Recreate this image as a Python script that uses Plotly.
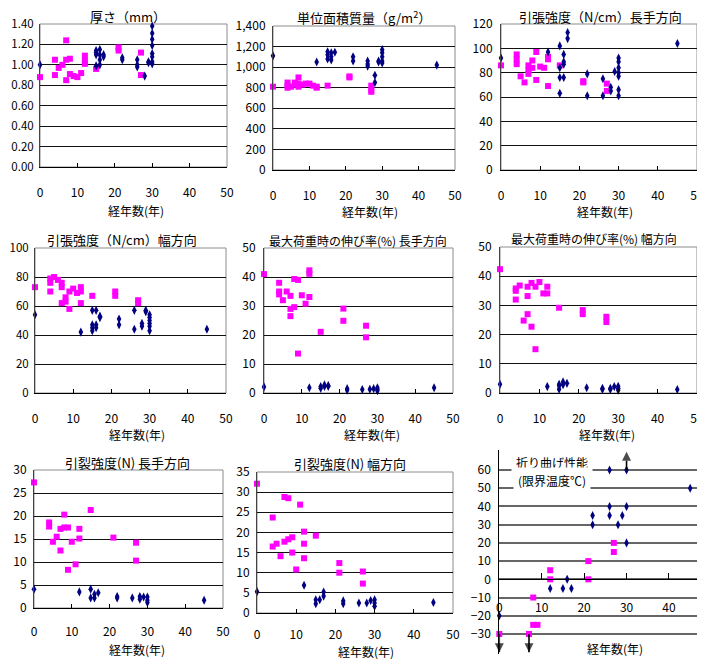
import plotly.graph_objects as go

W, H = 705, 659          # window size
OFF = 8                  # page body margin of the html page
FW, FH = W - OFF, H - OFF
FONT = "Noto Sans CJK JP"
PINK = "#FF00FF"
NAVY = "#000080"

# ---------------- data ----------------
# 1 厚さ (mm)
p1_pink_x = [0, 4, 4, 5, 6, 7, 7, 7, 8, 8, 9, 10, 11, 12, 12, 12, 15, 21, 21, 27, 27]
p1_pink_y = [0.88, 1.05, 0.90, 0.97, 1.00, 1.24, 1.05, 0.85, 1.06, 0.91, 0.89, 0.88, 0.92, 1.09, 1.04, 1.01, 0.96, 1.17, 1.14, 1.12, 0.90]
p1_navy_x = [0, 15, 15, 15, 15, 16, 16, 16, 16, 17, 17, 22, 22, 26, 26, 26, 28, 29, 29, 30, 30, 30, 30, 30, 30, 30, 30]
p1_navy_y = [1.00, 1.14, 1.12, 1.10, 0.99, 1.15, 1.10, 1.05, 1.00, 1.10, 1.08, 1.07, 1.05, 1.05, 1.00, 0.98, 0.89, 1.02, 1.03, 1.38, 1.31, 1.25, 1.19, 1.11, 1.08, 1.03, 1.01]

# 2 単位面積質量 (g/m2)
p2_pink_x = [0, 4, 4, 4, 5, 6, 6, 7, 7, 7, 8, 9, 10, 11, 12, 12, 15, 21, 21, 27, 27, 27]
p2_pink_y = [810, 850, 820, 800, 810, 850, 830, 900, 840, 810, 830, 840, 840, 820, 810, 800, 820, 900, 910, 820, 780, 760]
p2_navy_x = [0, 12, 15, 15, 15, 16, 16, 16, 17, 22, 22, 26, 26, 26, 28, 28, 29, 29, 30, 30, 30, 30, 30, 45]
p2_navy_y = [1110, 1050, 1150, 1120, 1080, 1140, 1100, 1070, 1145, 1100, 1060, 1060, 1030, 1010, 920, 850, 1060, 1050, 1170, 1140, 1100, 1060, 1040, 1020]

# 3 引張強度 長手方向
p3_pink_x = [0, 4, 4, 4, 5, 6, 7, 7, 7, 8, 8, 9, 9, 10, 11, 12, 12, 12, 15, 21, 21, 27, 27]
p3_pink_y = [86, 95, 91, 87, 77, 72, 86, 82, 79, 90, 84, 97, 74, 85, 84, 93, 91, 69, 86, 73, 72, 71, 65]
p3_navy_x = [0, 12, 15, 15, 15, 15, 16, 16, 16, 16, 17, 17, 22, 22, 26, 26, 28, 28, 29, 30, 30, 30, 30, 30, 30, 30, 45]
p3_navy_y = [92, 97, 102, 84, 76, 63, 95, 89, 87, 76, 113, 108, 79, 61, 75, 61, 68, 65, 81, 92, 89, 84, 80, 77, 66, 61, 104]

# 4 引張強度 幅方向
p4_pink_x = [0, 4, 4, 4, 5, 6, 7, 7, 7, 8, 8, 9, 9, 10, 11, 12, 12, 12, 15, 21, 21, 27, 27]
p4_pink_y = [73, 79, 76, 70, 80, 78, 76, 73, 62, 66, 63, 70, 58, 72, 69, 73, 70, 62, 67, 70, 67, 64, 62]
p4_navy_x = [0, 12, 15, 15, 15, 15, 16, 16, 16, 17, 17, 22, 22, 26, 26, 28, 28, 29, 29, 30, 30, 30, 30, 30, 30, 45]
p4_navy_y = [54, 42, 57, 47, 45, 43, 57, 47, 45, 53, 52, 51, 47, 57, 44, 48, 46, 57, 56, 54, 52, 50, 48, 46, 43, 44]

# 5 最大荷重時の伸び率 長手方向
p5_pink_x = [0, 4, 4, 4, 5, 6, 7, 7, 7, 8, 8, 9, 9, 10, 11, 12, 12, 12, 15, 21, 21, 27, 27]
p5_pink_y = [41, 38, 35, 34, 32, 35, 33.5, 29, 26.5, 39.3, 29.6, 39, 13.6, 33.7, 30.8, 42.3, 41.1, 33.1, 21.1, 29.1, 24.9, 23.2, 19.2]
p5_navy_x = [0, 12, 15, 15, 16, 16, 17, 17, 22, 22, 26, 28, 29, 30, 30, 30, 45]
p5_navy_y = [2.1, 1.8, 2.2, 1.6, 2.8, 2.3, 2.6, 2.3, 1.5, 1.0, 1.2, 1.3, 1.5, 1.8, 1.2, 0.8, 1.8]

# 6 最大荷重時の伸び率 幅方向
p6_pink_x = [0, 4, 4, 4, 5, 6, 7, 7, 7, 8, 8, 9, 9, 10, 11, 12, 12, 15, 21, 21, 27, 27]
p6_pink_y = [42.4, 35.8, 35, 32, 36.8, 24.8, 36.4, 33.2, 27, 37.7, 22.7, 36.4, 15, 38, 34.1, 36.4, 34.1, 29.2, 28.4, 27, 26.1, 24.3]
p6_navy_x = [0, 12, 15, 15, 15, 16, 16, 17, 22, 26, 26, 28, 28, 29, 30, 30, 30, 45]
p6_navy_y = [3, 2.2, 3, 2.5, 1.3, 3.8, 2.8, 3.3, 1.8, 1.6, 1.2, 1.6, 1.2, 2.2, 2.3, 1.6, 1.0, 1.2]

# 7 引裂強度 長手方向
p7_pink_x = [0, 4, 4, 5, 6, 7, 7, 8, 8, 9, 9, 10, 11, 12, 12, 15, 21, 27, 27]
p7_pink_y = [27.3, 18.6, 17.7, 14.4, 15.5, 17.2, 12.5, 20.3, 17.5, 17.5, 8.3, 14.4, 9.5, 17.2, 15.1, 21.3, 15.3, 14.2, 10.3]
p7_navy_x = [0, 12, 15, 15, 16, 16, 17, 22, 22, 26, 28, 28, 29, 30, 30, 30, 45]
p7_navy_y = [4.1, 3.5, 4.1, 2.2, 3.0, 2.2, 3.3, 2.5, 2.2, 2.2, 2.5, 1.9, 2.4, 2.4, 1.7, 1.2, 1.7]

# 8 引裂強度 幅方向
p8_pink_x = [0, 4, 4, 5, 6, 7, 7, 8, 8, 9, 9, 10, 11, 12, 12, 12, 15, 21, 21, 27, 27]
p8_pink_y = [32.1, 23.7, 16.5, 17.2, 14.1, 28.8, 17.7, 28.5, 18.3, 18.8, 15.0, 10.8, 26.9, 20.2, 17.2, 13.6, 19.2, 12.4, 10.0, 10.3, 7.3]
p8_navy_x = [0, 12, 15, 15, 16, 17, 17, 22, 22, 26, 28, 29, 30, 30, 30, 45]
p8_navy_y = [5.3, 6.9, 3.3, 2.3, 3.3, 5.2, 4.2, 3.0, 2.3, 2.5, 2.5, 3.1, 3.3, 2.5, 1.7, 2.6]

# 9 折り曲げ性能 (限界温度℃)
p9_pink_x = [0, 7, 8, 8, 9, 12, 12, 21, 21, 27, 27]
p9_pink_y = [-30, -30, -10, -25, -25, 5, 0, 10, 0, 20, 15]
p9_navy_x = [0, 12, 15, 16, 17, 22, 22, 26, 26, 26, 28, 29, 30, 30, 30, 45]
p9_navy_y = [-20, -5, -5, 0, -5, 35, 30, 60, 40, 35, 30, 35, 60, 40, 20, 50]
# off-scale arrows (x, from, to)
arrow_x = [30, 0, 7]
arrow_from = [60, -30, -30]
arrow_to = [70, -40, -40]

titles = ["厚さ（mm）", "単位面積質量（g/m<sup>2</sup>）", "引張強度（N/cm）長手方向",
          "引張強度（N/cm）幅方向", "最大荷重時の伸び率(%) 長手方向", "最大荷重時の伸び率(%) 幅方向",
          "引裂強度(N) 長手方向", "引裂強度(N) 幅方向"]
x_title = "経年数(年)"
x_ticks = [0, 10, 20, 30, 40, 50]

# ---------------- layout helpers (window pixels -> paper fractions) ----------------
def fx(px):
    return (px - OFF) / FW

def fy(py):
    return 1 - (py - OFF) / FH

panels = [
    dict(l=40, r=227, t=24, b=167, ymax=1.4, dtick=0.2, fmt=".2f", tx=128, ty=16.5, ts=13, xx=136, xy=211, yso=3, yfs=11.5, xso=15),
    dict(l=273, r=455, t=26, b=170, ymax=1400, dtick=200, fmt=",", tx=364, ty=17.5, ts=13, xx=370, xy=212, yso=4, yfs=12, xso=15),
    dict(l=501, r=697, t=24, b=170, ymax=120, dtick=20, fmt="", tx=600, ty=16.5, ts=13, xx=605, xy=212, yso=5, yfs=12, xso=15),
    dict(l=35, r=226, t=248, b=393, ymax=100, dtick=20, fmt="", tx=122, ty=240, ts=13, xx=137, xy=434, yso=3, yfs=11.5, xso=15),
    dict(l=264, r=453, t=248, b=393, ymax=50, dtick=10, fmt="", tx=358, ty=241, ts=12, xx=372, xy=434, yso=5, yfs=12, xso=15),
    dict(l=500, r=697, t=247, b=393, ymax=50, dtick=10, fmt="", tx=594, ty=238, ts=12, xx=607, xy=434, yso=5, yfs=12, xso=15),
    dict(l=34, r=223, t=470, b=608, ymax=30, dtick=5, fmt="", tx=127, ty=462, ts=13, xx=137, xy=649, yso=4, yfs=12, xso=13),
    dict(l=257, r=453, t=472, b=613, ymax=35, dtick=5, fmt="", tx=350, ty=463, ts=13, xx=366, xy=651, yso=4, yfs=12, xso=11),
]

data = [
    (p1_pink_x, p1_pink_y, p1_navy_x, p1_navy_y),
    (p2_pink_x, p2_pink_y, p2_navy_x, p2_navy_y),
    (p3_pink_x, p3_pink_y, p3_navy_x, p3_navy_y),
    (p4_pink_x, p4_pink_y, p4_navy_x, p4_navy_y),
    (p5_pink_x, p5_pink_y, p5_navy_x, p5_navy_y),
    (p6_pink_x, p6_pink_y, p6_navy_x, p6_navy_y),
    (p7_pink_x, p7_pink_y, p7_navy_x, p7_navy_y),
    (p8_pink_x, p8_pink_y, p8_navy_x, p8_navy_y),
    (p9_pink_x, p9_pink_y, p9_navy_x, p9_navy_y),
]

fig = go.Figure()
layout = dict(
    width=FW, height=FH, margin=dict(l=0, r=0, t=0, b=0, pad=0, autoexpand=False),
    paper_bgcolor="white", plot_bgcolor="white", showlegend=False,
    font=dict(family=FONT, size=12, color="black"),
)
shapes, annotations = [], []

for i, (px, py, nx, ny) in enumerate(data):
    k = i + 1
    xn = "x" if k == 1 else f"x{k}"
    yn = "y" if k == 1 else f"y{k}"
    fig.add_trace(go.Scatter(x=px, y=py, xaxis=xn, yaxis=yn, mode="markers", cliponaxis=False,
                             marker=dict(symbol="square", size=6, color=PINK)))
    fig.add_trace(go.Scatter(x=nx, y=ny, xaxis=xn, yaxis=yn, mode="markers", cliponaxis=False,
                             marker=dict(symbol="diamond-tall", size=6.5, color=NAVY)))
    xkey = "xaxis" if k == 1 else f"xaxis{k}"
    ykey = "yaxis" if k == 1 else f"yaxis{k}"
    if k <= 8:
        p = panels[i]
        layout[xkey] = dict(domain=[fx(p["l"]), fx(p["r"])], anchor=yn, range=[0, 50],
                            tickvals=x_ticks, ticks="inside", ticklen=4, tickcolor="black",
                            showline=True, linecolor="black", linewidth=1, showgrid=False,
                            zeroline=False, ticklabelstandoff=p["xso"], automargin=False,
                            tickfont=dict(size=12))
        layout[ykey] = dict(domain=[fy(p["b"]), fy(p["t"])], anchor=xn, range=[0, p["ymax"]],
                            dtick=p["dtick"], tick0=0, tickformat=p["fmt"], showgrid=True,
                            gridcolor="#111", gridwidth=1, showline=True, linecolor="#444",
                            linewidth=1, zeroline=False, ticks="", ticklabelstandoff=p["yso"],
                            automargin=False, tickfont=dict(size=p["yfs"]))
        shapes.append(dict(type="rect", xref=f"{xn} domain", yref=f"{yn} domain",
                           x0=0, x1=1, y0=0, y1=1, line=dict(color="#8c8c8c", width=1),
                           layer="below"))
        annotations.append(dict(text=titles[i], x=fx(p["tx"]), y=fy(p["ty"]), xref="paper", yref="paper",
                                showarrow=False, font=dict(size=p["ts"]), xanchor="center", yanchor="middle"))
        annotations.append(dict(text=x_title, x=fx(p["xx"]), y=fy(p["xy"]), xref="paper", yref="paper",
                                showarrow=False, font=dict(size=12), xanchor="center", yanchor="middle"))
    else:
        y_top_px, y_bot_px = 450, 654
        y_rng = [-41, 71]
        zero_px = y_bot_px - (0 - y_rng[0]) / (y_rng[1] - y_rng[0]) * (y_bot_px - y_top_px)
        layout[xkey] = dict(domain=[fx(499.3), 1], anchor="free", position=fy(zero_px), range=[0, 48.5],
                            tickvals=[0, 10, 20, 30, 40], ticks="inside", ticklen=6, tickcolor="black",
                            showline=True, linecolor="black", linewidth=1.2, showgrid=False,
                            zeroline=False, ticklabelstandoff=17, automargin=False,
                            tickfont=dict(size=12))
        layout[ykey] = dict(domain=[fy(y_bot_px), fy(y_top_px)], anchor=xn, range=y_rng,
                            tickvals=list(range(-30, 61, 10)), showgrid=True, gridcolor="#666",
                            gridwidth=1.5, showline=True, linecolor="black", linewidth=1.2,
                            zeroline=False, ticks="", ticklabelstandoff=5, automargin=False,
                            tickfont=dict(size=12))
        # off-scale arrows drawn as short line traces with arrow-head markers at the tip
        for ax_, a0, a1 in zip(arrow_x, arrow_from, arrow_to):
            head = "arrow-up" if a1 > a0 else "arrow-down"
            fig.add_trace(go.Scatter(x=[ax_, ax_], y=[a0, a1], xaxis=xn, yaxis=yn,
                                     mode="lines+markers", cliponaxis=False,
                                     line=dict(color="black", width=1.6),
                                     marker=dict(symbol=["line-ns", head], size=[0, 9],
                                                 color="black", line=dict(width=0))))
        annotations.append(dict(text="折り曲げ性能", x=fx(552), y=fy(462), xref="paper", yref="paper",
                                showarrow=False, font=dict(size=12), bgcolor="white", borderpad=4,
                                xanchor="center", yanchor="middle"))
        annotations.append(dict(text="(限界温度℃)", x=fx(552), y=fy(480), xref="paper", yref="paper",
                                showarrow=False, font=dict(size=12), bgcolor="white", borderpad=4,
                                xanchor="center", yanchor="middle"))
        annotations.append(dict(text=x_title, x=fx(615), y=fy(648), xref="paper", yref="paper",
                                showarrow=False, font=dict(size=12), xanchor="center", yanchor="middle"))

layout["shapes"] = shapes
layout["annotations"] = annotations
fig.update_layout(**layout)
fig.write_html("out.html")
